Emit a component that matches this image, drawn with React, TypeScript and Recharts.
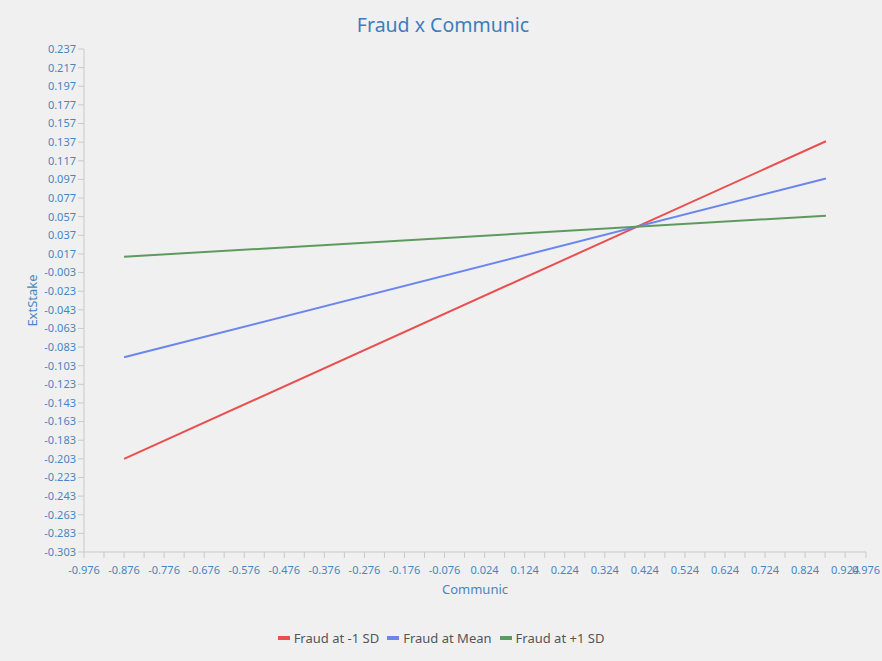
import {
  Label,
  Legend,
  Line,
  LineChart,
  XAxis,
  YAxis,
} from "recharts";

const xValues = [-0.876, 0.876];
const lowSdValues = [-0.203, 0.138];
const meanValues = [-0.094, 0.098];
const highSdValues = [0.014, 0.058];

const xLabelTicks = [
  -0.976, -0.876, -0.776, -0.676, -0.576, -0.476, -0.376, -0.276, -0.176, -0.076,
  0.024, 0.124, 0.224, 0.324, 0.424, 0.524, 0.624, 0.724, 0.824, 0.924, 0.976,
];
const xMinorTicks = [
  -0.926, -0.826, -0.726, -0.626, -0.526, -0.426, -0.326, -0.226, -0.126, -0.026,
  0.074, 0.174, 0.274, 0.374, 0.474, 0.574, 0.674, 0.774, 0.874,
];
const yTicks = [
  0.237, 0.217, 0.197, 0.177, 0.157, 0.137, 0.117, 0.097, 0.077, 0.057, 0.037,
  0.017, -0.003, -0.023, -0.043, -0.063, -0.083, -0.103, -0.123, -0.143, -0.163,
  -0.183, -0.203, -0.223, -0.243, -0.263, -0.283, -0.303,
];

const seriesInfo = [
  { key: "low", name: "Fraud at -1 SD", color: "#e94f4f" },
  { key: "mean", name: "Fraud at Mean", color: "#6b85ee" },
  { key: "high", name: "Fraud at +1 SD", color: "#5e9a5e" },
];

const data = xValues.map((x, i) => ({
  x,
  low: lowSdValues[i],
  mean: meanValues[i],
  high: highSdValues[i],
}));

const FONT = "'Noto Sans', 'Open Sans', sans-serif";
const TICK_COLOR = "#4a85c1";
const AXIS_COLOR = "#c9c9c9";

const allXTicks = [...xLabelTicks, ...xMinorTicks].sort((a, b) => a - b);

function XTick(props: any) {
  const { x, y, payload } = props;
  if (!xLabelTicks.includes(payload.value)) return null;
  return (
    <text x={x} y={y} dy="0.71em" textAnchor="middle" fill={TICK_COLOR} fontSize={11} fontFamily={FONT}>
      {payload.value.toFixed(3)}
    </text>
  );
}

function YTick(props: any) {
  const { x, y, payload } = props;
  return (
    <text x={x} y={y} dy="0.355em" textAnchor="end" fill={TICK_COLOR} fontSize={11} fontFamily={FONT}>
      {payload.value.toFixed(3)}
    </text>
  );
}

function LegendContent() {
  return (
    <div
      style={{
        display: "flex",
        justifyContent: "center",
        alignItems: "center",
        height: 20,
        fontFamily: FONT,
        fontSize: 13,
        color: "#555",
      }}
    >
      {seriesInfo.map((s) => (
        <div key={s.key} style={{ display: "flex", alignItems: "center", margin: "0 4px" }}>
          <span style={{ display: "inline-block", width: 12, height: 4, background: s.color, marginRight: 4 }} />
          <span>{s.name}</span>
        </div>
      ))}
    </div>
  );
}

export default function App() {
  return (
    <div style={{ position: "absolute", left: 0, top: 0, width: 882, height: 661, background: "#f0f0f0" }}>
      <div
        style={{
          position: "absolute",
          top: 10,
          left: 2,
          width: 882,
          textAlign: "center",
          fontFamily: FONT,
          fontSize: 19.5,
          color: "#3d7dbd",
          lineHeight: "30px",
        }}
      >
        Fraud x Communic
      </div>
      <LineChart
        width={882}
        height={661}
        data={data}
        margin={{ top: 49, right: 16, bottom: 59, left: 0 }}
      >
        <XAxis
          dataKey="x"
          type="number"
          domain={[-0.976, 0.976]}
          ticks={allXTicks}
          interval={0}
          allowDataOverflow
          height={30}
          tickSize={6}
          tickMargin={8}
          stroke={AXIS_COLOR}
          tick={<XTick />}
        >
          <Label
            content={(p: any) => {
              const vb = p.viewBox;
              return (
                <text
                  x={vb.x + vb.width / 2}
                  y={vb.y + 42}
                  textAnchor="middle"
                  fill={TICK_COLOR}
                  fontSize={13}
                  fontFamily={FONT}
                >
                  Communic
                </text>
              );
            }}
          />
        </XAxis>
        <YAxis
          type="number"
          domain={[-0.303, 0.237]}
          ticks={yTicks}
          interval={0}
          allowDataOverflow
          width={84}
          tickSize={6}
          tickMargin={2}
          stroke={AXIS_COLOR}
          tick={<YTick />}
        >
          <Label
            content={(p: any) => {
              const vb = p.viewBox;
              const cx = vb.x + 37;
              const cy = vb.y + vb.height / 2;
              return (
                <text
                  x={cx}
                  y={cy}
                  transform={`rotate(-90 ${cx} ${cy})`}
                  textAnchor="middle"
                  fill={TICK_COLOR}
                  fontSize={13}
                  fontFamily={FONT}
                >
                  ExtStake
                </text>
              );
            }}
          />
        </YAxis>
        <Legend
          verticalAlign="bottom"
          content={<LegendContent />}
          wrapperStyle={{ top: 628, bottom: "auto", left: 0, width: 882 }}
        />
        {seriesInfo.map((s) => (
          <Line
            key={s.key}
            dataKey={s.key}
            name={s.name}
            stroke={s.color}
            strokeWidth={2}
            dot={false}
            activeDot={false}
            isAnimationActive={false}
          />
        ))}
      </LineChart>
    </div>
  );
}
